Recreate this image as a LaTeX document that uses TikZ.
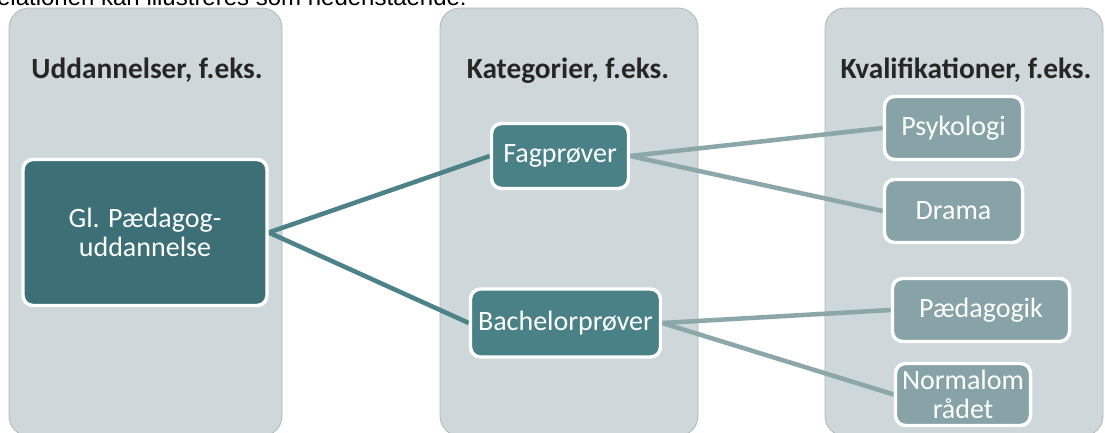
\documentclass[tikz,border=0pt]{standalone}
\usepackage{fontspec}
\setmainfont{Carlito}
\newfontfamily\arialfont{Liberation Sans}
\usetikzlibrary{positioning}
\definecolor{colbg}{HTML}{CED7D9}
\definecolor{coledge}{HTML}{AEB7B9}
\definecolor{darkbox}{HTML}{3D7076}
\definecolor{midbox}{HTML}{4A8187}
\definecolor{lightbox}{HTML}{88A3A7}
\definecolor{lineone}{HTML}{4D8388}
\definecolor{linetwo}{HTML}{8CA7AA}
\pgfdeclarelayer{back}
\pgfdeclarelayer{lines}
\pgfsetlayers{back,lines,main}
\tikzset{
  column/.style={fill=colbg, draw=coledge, line width=0.6pt, rounded corners=15pt},
  header/.style={anchor=base, font=\fontsize{22}{24}\selectfont\bfseries, text=black!85},
  boxbase/.style={draw=white, line width=2.6pt, rounded corners=7.5pt, text=white,
    font=\fontsize{21}{22}\selectfont, align=center, inner sep=0pt},
  rootbox/.style={boxbase, fill=darkbox},
  catbox/.style={boxbase, fill=midbox},
  qualbox/.style={boxbase, fill=lightbox},
  linkone/.style={draw=lineone, line width=3.4pt},
  linktwo/.style={draw=linetwo, line width=3.4pt}
}
\begin{document}
\begin{tikzpicture}[x=0.75pt,y=-0.75pt]
\useasboundingbox (0,0) rectangle (1105,432);
\clip (0,0) rectangle (1105,432);
% cut-off sentence above the diagram
\node[anchor=base east, inner sep=0pt, font=\arialfont\fontsize{18}{20}\selectfont] (intro) at (467,5.5) {relationen kan illustreres som nedenstående:};
% columns
\begin{pgfonlayer}{back}
\path[column] (9,8) rectangle (282,436);
\path[column] (440,8) rectangle (698,436);
\path[column] (825,8) rectangle (1103,436);
\end{pgfonlayer}
% headers
\node[header] (h1) at (147,78) {Uddannelser, f.eks.};
\node[header] (h2) at (568,78) {Kategorier, f.eks.};
\node[header] (h3) at (966,78) {Kvalifikationer, f.eks.};
% boxes
\node[rootbox, minimum width=183pt, minimum height=109.5pt] (gl) at (145,232.5) {Gl. Pædagog-\\uddannelse};
\node[catbox, minimum width=102.75pt, minimum height=48.75pt] (fag) at (560,156) {Fagprøver};
\node[catbox, minimum width=142.5pt, minimum height=51pt] (bach) at (565.5,323) {Bachelorprøver};
\node[qualbox, minimum width=103.5pt, minimum height=47.25pt] (psy) at (953.5,128) {Psykologi};
\node[qualbox, minimum width=103.5pt, minimum height=47.25pt] (dra) at (953.5,211) {Drama};
\node[qualbox, minimum width=132.75pt, minimum height=47.25pt] (paed) at (981,310) {Pædagogik};
\node[qualbox, minimum width=101.25pt, minimum height=46.5pt] (norm) at (963,394.5) {Normalom\\rådet};
% connectors
\begin{pgfonlayer}{lines}
\draw[linkone] (gl.east) -- (fag.west);
\draw[linkone] (gl.east) -- (bach.west);
\draw[linktwo] (fag.east) -- (psy.west);
\draw[linktwo] (fag.east) -- (dra.west);
\draw[linktwo] (bach.east) -- (paed.west);
\draw[linktwo] (bach.east) -- (norm.west);
\end{pgfonlayer}
\end{tikzpicture}
\end{document}
